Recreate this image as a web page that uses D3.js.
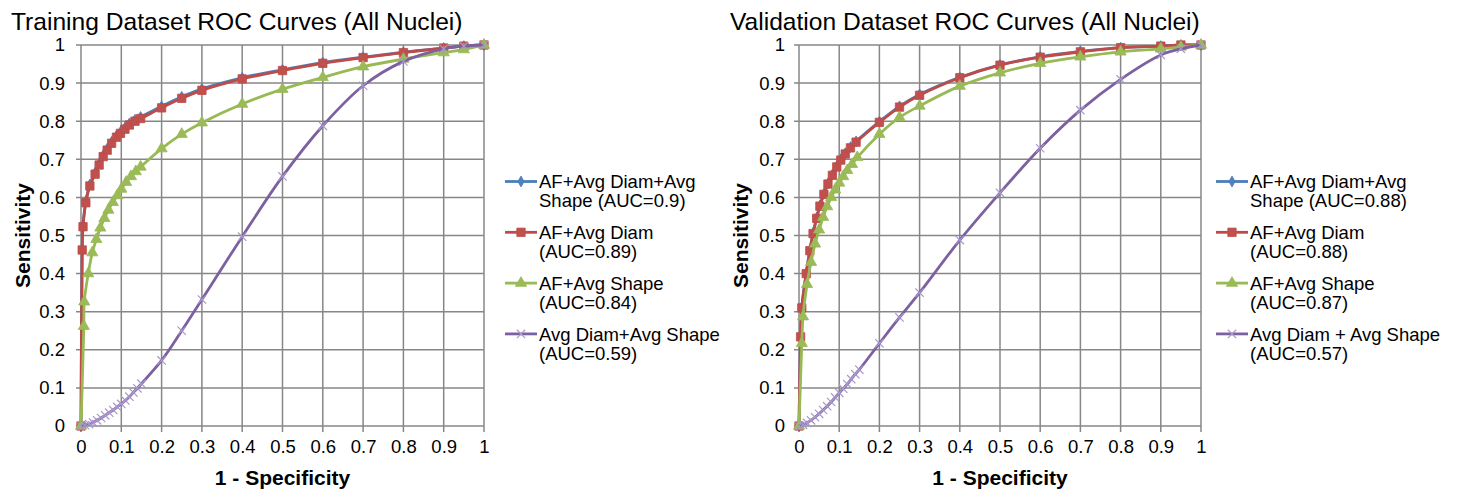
<!DOCTYPE html>
<html lang="en">
<head>
<meta charset="UTF-8">
<title>ROC Curves (All Nuclei)</title>
<script src="https://d3js.org/d3.v7.min.js"></script>
<style>
  body { margin: 0; background: white; }
  svg { display: block; }
  text { font-family: Arial, "Liberation Sans", sans-serif; fill: #000; }
</style>
</head>
<body>
<svg width="1465" height="490"></svg>
<script>
// ---- data (1 - specificity, sensitivity) ----
const tickValues = [0, 0.1, 0.2, 0.3, 0.4, 0.5, 0.6, 0.7, 0.8, 0.9, 1];

const trainBlue = [[0,0],[0.003,0.465],[0.005,0.527],[0.012,0.59],[0.022,0.634],[0.035,0.665],[0.045,0.689],[0.055,0.711],[0.065,0.728],[0.076,0.746],[0.088,0.762],[0.098,0.772],[0.109,0.783],[0.12,0.794],[0.134,0.804],[0.148,0.811],[0.2,0.839],[0.25,0.864],[0.3,0.885],[0.4,0.914],[0.5,0.935],[0.6,0.954],[0.7,0.968],[0.8,0.981],[0.9,0.992],[0.95,0.997],[1,1]];
const trainRed = [[0,0],[0.003,0.462],[0.005,0.523],[0.012,0.586],[0.022,0.63],[0.035,0.661],[0.045,0.685],[0.055,0.707],[0.065,0.724],[0.076,0.742],[0.088,0.758],[0.098,0.768],[0.109,0.779],[0.12,0.79],[0.134,0.8],[0.148,0.807],[0.2,0.835],[0.25,0.86],[0.3,0.881],[0.4,0.911],[0.5,0.933],[0.6,0.952],[0.7,0.967],[0.8,0.98],[0.9,0.992],[0.95,0.997],[1,1]];
const trainGreen = [[0,0],[0.007,0.262],[0.008,0.326],[0.018,0.4],[0.028,0.455],[0.038,0.49],[0.048,0.52],[0.058,0.545],[0.068,0.567],[0.079,0.587],[0.09,0.605],[0.1,0.622],[0.112,0.64],[0.124,0.655],[0.136,0.668],[0.148,0.68],[0.2,0.728],[0.25,0.766],[0.3,0.796],[0.4,0.845],[0.5,0.884],[0.6,0.915],[0.7,0.943],[0.8,0.963],[0.9,0.98],[0.95,0.988],[1,1]];
const trainPurple = [[0,0],[0.01,0.002],[0.02,0.005],[0.03,0.009],[0.04,0.015],[0.05,0.021],[0.06,0.028],[0.07,0.035],[0.08,0.042],[0.09,0.05],[0.1,0.058],[0.11,0.067],[0.12,0.077],[0.13,0.088],[0.14,0.099],[0.15,0.111],[0.2,0.172],[0.25,0.25],[0.3,0.332],[0.4,0.497],[0.5,0.655],[0.6,0.788],[0.7,0.893],[0.8,0.957],[0.9,0.99],[0.95,0.997],[1,1]];

const validBlue = [[0,0],[0.004,0.236],[0.007,0.312],[0.018,0.402],[0.027,0.462],[0.035,0.507],[0.044,0.547],[0.052,0.579],[0.062,0.61],[0.072,0.637],[0.083,0.66],[0.094,0.682],[0.104,0.7],[0.115,0.716],[0.128,0.732],[0.142,0.747],[0.2,0.799],[0.25,0.839],[0.3,0.87],[0.4,0.915],[0.5,0.948],[0.6,0.969],[0.7,0.983],[0.8,0.993],[0.9,0.997],[0.95,1],[1,1]];
const validRed = [[0,0],[0.004,0.234],[0.007,0.31],[0.018,0.4],[0.027,0.46],[0.035,0.505],[0.044,0.545],[0.052,0.577],[0.062,0.608],[0.072,0.635],[0.083,0.658],[0.094,0.68],[0.104,0.698],[0.115,0.714],[0.128,0.73],[0.142,0.745],[0.2,0.797],[0.25,0.837],[0.3,0.868],[0.4,0.914],[0.5,0.947],[0.6,0.968],[0.7,0.982],[0.8,0.993],[0.9,0.997],[0.95,1],[1,1]];
const validGreen = [[0,0],[0.007,0.217],[0.01,0.287],[0.02,0.372],[0.03,0.43],[0.04,0.478],[0.05,0.515],[0.06,0.548],[0.07,0.576],[0.08,0.6],[0.09,0.62],[0.1,0.638],[0.11,0.655],[0.12,0.671],[0.132,0.687],[0.145,0.705],[0.2,0.766],[0.25,0.81],[0.3,0.84],[0.4,0.892],[0.5,0.927],[0.6,0.952],[0.7,0.969],[0.8,0.982],[0.9,0.99],[0.95,0.995],[1,1]];
const validPurple = [[0,0],[0.01,0.003],[0.02,0.008],[0.03,0.015],[0.04,0.023],[0.05,0.032],[0.06,0.042],[0.07,0.052],[0.08,0.063],[0.09,0.075],[0.1,0.087],[0.11,0.098],[0.12,0.11],[0.13,0.123],[0.14,0.136],[0.15,0.148],[0.2,0.217],[0.25,0.285],[0.3,0.35],[0.4,0.488],[0.5,0.612],[0.6,0.729],[0.7,0.829],[0.8,0.91],[0.9,0.974],[0.95,0.99],[1,1]];

const trainLegend = [["AF+Avg Diam+Avg", "Shape (AUC=0.9)"], ["AF+Avg Diam", "(AUC=0.89)"], ["AF+Avg Shape", "(AUC=0.84)"], ["Avg Diam+Avg Shape", "(AUC=0.59)"]];
const validLegend = [["AF+Avg Diam+Avg", "Shape (AUC=0.88)"], ["AF+Avg Diam", "(AUC=0.88)"], ["AF+Avg Shape", "(AUC=0.87)"], ["Avg Diam + Avg Shape", "(AUC=0.57)"]];

// ---- styling ----
const lineColors = ["#4A7EBB", "#BE4B48", "#98B954", "#7D60A0"];
const markColors = ["#4F81BD", "#C0504D", "#9BBB59", "#A898CC"];
const symX = { draw(ctx, size) { const r = Math.sqrt(size) / 2; ctx.moveTo(-r, -r); ctx.lineTo(r, r); ctx.moveTo(r, -r); ctx.lineTo(-r, r); } };
const markers = [
  { type: d3.symbolDiamond, size: 34, fill: true },
  { type: d3.symbolSquare, size: 70, fill: true },
  { type: d3.symbolTriangle, size: 54, fill: true },
  { type: symX, size: 70, fill: false }
];

const svg = d3.select("svg");
const gridColor = "#878787";

function drawChart(cfg) {
  const x = d3.scaleLinear().domain([0, 1]).range([cfg.left, cfg.right]);
  const y = d3.scaleLinear().domain([0, 1]).range([426, 45]);
  const g = svg.append("g");

  // gridlines (with small outside ticks)
  g.selectAll(".vg").data(tickValues).join("line")
    .attr("x1", d => x(d)).attr("x2", d => x(d))
    .attr("y1", y(1)).attr("y2", y(0) + 6)
    .attr("stroke", gridColor).attr("stroke-width", 1.5);
  g.selectAll(".hg").data(tickValues).join("line")
    .attr("y1", d => y(d)).attr("y2", d => y(d))
    .attr("x1", x(0) - 5).attr("x2", x(1))
    .attr("stroke", gridColor).attr("stroke-width", 1.5);

  const xAxis = g.append("g").attr("transform", `translate(0,${y(0)})`)
    .call(d3.axisBottom(x).tickValues(tickValues).tickSize(0).tickPadding(14).tickFormat(d3.format("~g")));
  const yAxis = g.append("g").attr("transform", `translate(${x(0)},0)`)
    .call(d3.axisLeft(y).tickValues(tickValues).tickSize(0).tickPadding(cfg.yPad).tickFormat(d3.format("~g")));
  [xAxis, yAxis].forEach(a => {
    a.select(".domain").remove();
    a.selectAll("text").attr("font-size", 18.5).attr("fill", "#000")
      .attr("font-family", "Arial, 'Liberation Sans', sans-serif");
  });

  // titles
  g.append("text").attr("x", cfg.titleX).attr("y", 29.5)
    .attr("font-size", 24.6).text(cfg.title);
  g.append("text").attr("x", (x(0) + x(1)) / 2).attr("y", 485)
    .attr("text-anchor", "middle").attr("font-size", 21).attr("font-weight", "bold")
    .text("1 - Specificity");
  g.append("text").attr("transform", `translate(${cfg.yTitleX},${(y(0) + y(1)) / 2}) rotate(-90)`)
    .attr("text-anchor", "middle").attr("font-size", 21).attr("font-weight", "bold")
    .text("Sensitivity");

  // series
  const line = d3.line().x(d => x(d[0])).y(d => y(d[1])).curve(d3.curveCatmullRom.alpha(0.5));
  cfg.series.forEach((s, i) => {
    g.append("path").datum(s).attr("d", line)
      .attr("fill", "none").attr("stroke", lineColors[i]).attr("stroke-width", 2.8);
    const m = markers[i];
    g.selectAll(null).data(s).join("path")
      .attr("transform", d => `translate(${x(d[0])},${y(d[1])})`)
      .attr("d", d3.symbol(m.type, m.size))
      .attr("fill", m.fill ? markColors[i] : "none")
      .attr("stroke", m.fill ? lineColors[i] : markColors[i])
      .attr("stroke-width", m.fill ? 0.8 : 1.2);
  });

  // legend
  cfg.legend.forEach((lab, i) => {
    const cy = 181.5 + i * 50.8;
    const lg = g.append("g");
    lg.append("line").attr("x1", cfg.legX).attr("x2", cfg.legX + 32)
      .attr("y1", cy).attr("y2", cy).attr("stroke", lineColors[i]).attr("stroke-width", 2.8);
    const m = markers[i];
    lg.append("path").attr("transform", `translate(${cfg.legX + 16},${cy})`)
      .attr("d", d3.symbol(m.type, m.size))
      .attr("fill", m.fill ? markColors[i] : "none")
      .attr("stroke", m.fill ? lineColors[i] : markColors[i])
      .attr("stroke-width", m.fill ? 0.8 : 1.2);
    lab.forEach((t, j) => {
      lg.append("text").attr("x", cfg.legX + 34).attr("y", cy + 6.8 + j * 18.8)
        .attr("font-size", 18.5).text(t);
    });
  });
}

drawChart({
  left: 81, right: 484, yPad: 16, titleX: 11, yTitleX: 29.5, legX: 505,
  title: "Training Dataset ROC Curves (All Nuclei)",
  series: [trainBlue, trainRed, trainGreen, trainPurple], legend: trainLegend
});
drawChart({
  left: 799, right: 1201, yPad: 14, titleX: 730, yTitleX: 748, legX: 1216,
  title: "Validation Dataset ROC Curves (All Nuclei)",
  series: [validBlue, validRed, validGreen, validPurple], legend: validLegend
});
</script>
</body>
</html>
